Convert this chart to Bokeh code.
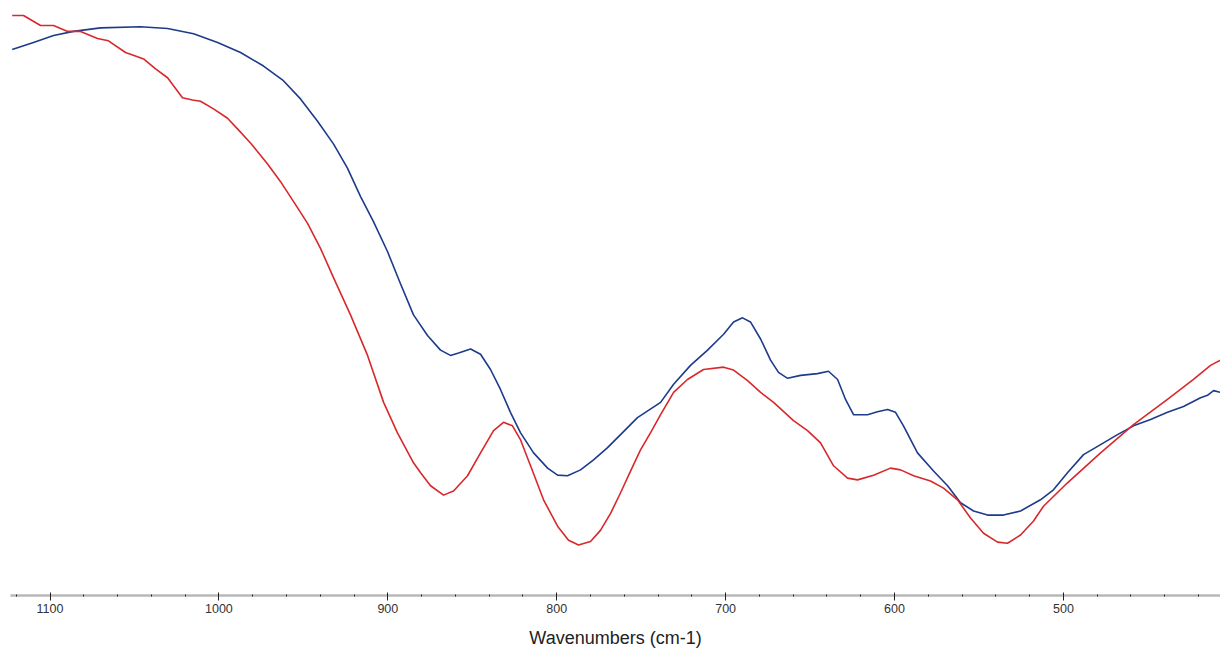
from bokeh.plotting import figure
from bokeh.models import Range1d, SingleIntervalTicker
from bokeh.embed import file_html
from bokeh.resources import INLINE

# Wavenumbers (cm-1) and transmittance-like values
red_wn = [1122.4, 1115.7, 1105.6, 1097.9, 1089.6, 1081.9, 1071.9, 1065.4, 1055.3, 1048.2,
          1044.6, 1037.5, 1030.4, 1021.6, 1015.6, 1010.9, 1003.2, 994.9, 989.0, 981.3,
          971.2, 963.5, 955.8, 947.5, 939.8, 932.1, 922.1, 912.0, 902.5, 894.3,
          884.8, 880.6, 874.7, 867.0, 861.1, 852.8, 845.1, 837.4, 831.5, 826.2,
          821.4, 815.5, 807.8, 799.5, 793.0, 787.1, 780.0, 774.1, 768.1, 762.2,
          756.3, 750.4, 744.5, 738.5, 730.8, 722.6, 713.1, 701.2, 695.3, 687.0,
          679.3, 671.6, 659.8, 651.5, 643.8, 636.1, 627.8, 621.9, 612.4, 602.4,
          596.4, 588.7, 578.7, 571.0, 562.7, 555.0, 547.3, 539.0, 533.1, 525.4,
          517.7, 511.8, 497.6, 478.0, 458.5, 438.4, 423.0, 412.9, 407.0]
red_t = [98.8, 98.8, 97.1, 97.1, 96.1, 96.1, 94.9, 94.5, 92.5, 91.8,
         91.4, 89.7, 88.2, 84.8, 84.4, 84.2, 82.9, 81.3, 79.5, 77.1,
         73.5, 70.5, 67.1, 63.4, 59.1, 54.1, 47.8, 40.9, 32.9, 27.7,
         22.6, 20.9, 18.7, 17.1, 17.8, 20.4, 24.3, 28.1, 29.5, 28.9,
         26.5, 22.1, 16.3, 11.8, 9.4, 8.6, 9.2, 11.1, 14.0, 17.5,
         21.2, 24.8, 27.7, 30.8, 34.6, 36.8, 38.5, 38.9, 38.4, 36.6,
         34.6, 32.9, 29.8, 28.1, 26.0, 22.1, 20.0, 19.7, 20.5, 21.7,
         21.4, 20.4, 19.5, 18.3, 16.3, 13.2, 10.6, 9.1, 8.9, 10.3,
         12.7, 15.2, 19.2, 24.3, 29.1, 33.4, 36.8, 39.2, 40.1]

blue_wn = [1122.4, 1109.8, 1097.9, 1086.1, 1070.1, 1046.4, 1030.4, 1015.0, 1000.8, 987.2,
           973.6, 961.8, 951.7, 941.6, 932.1, 923.9, 916.2, 908.5, 900.2, 892.5,
           884.8, 876.5, 868.8, 862.9, 858.1, 851.0, 845.1, 839.2, 833.3, 827.4,
           821.4, 813.7, 805.4, 799.5, 793.6, 785.9, 778.2, 769.9, 762.2, 752.2,
           738.5, 730.8, 720.8, 710.7, 701.2, 695.3, 690.0, 685.3, 679.3, 673.4,
           668.7, 663.3, 655.6, 645.6, 639.1, 633.7, 629.0, 624.3, 616.0, 610.1,
           604.1, 599.4, 594.7, 586.4, 576.9, 568.6, 560.9, 553.2, 544.9, 535.5,
           525.4, 513.6, 505.9, 497.6, 488.1, 478.0, 468.0, 458.5, 448.4, 438.4,
           428.9, 418.8, 414.7, 411.1, 407.0]
blue_t = [93.0, 94.2, 95.4, 96.1, 96.7, 96.9, 96.6, 95.7, 94.2, 92.5,
          90.2, 87.7, 84.6, 80.8, 76.9, 72.8, 68.0, 63.7, 58.6, 53.1,
          47.8, 44.3, 41.8, 40.9, 41.3, 42.0, 41.1, 38.5, 35.1, 31.2,
          27.7, 24.3, 21.7, 20.5, 20.4, 21.4, 23.1, 25.2, 27.4, 30.3,
          32.9, 36.0, 39.2, 41.8, 44.5, 46.6, 47.3, 46.6, 43.7, 40.1,
          38.0, 37.0, 37.5, 37.8, 38.2, 36.8, 33.4, 30.8, 30.8, 31.3,
          31.7, 31.2, 28.9, 24.3, 21.2, 18.7, 15.8, 14.4, 13.7, 13.7,
          14.4, 16.3, 18.0, 20.9, 24.0, 25.7, 27.4, 28.9, 30.0, 31.2,
          32.2, 33.7, 34.1, 34.9, 34.6]

p = figure(width=1220, height=650, output_backend="svg", toolbar_location=None,
           x_range=Range1d(1123.4, 407.0), y_range=Range1d(0, 100),
           min_border_left=10, min_border_right=0, min_border_top=8)
p.yaxis.visible = False
p.xgrid.visible = False
p.ygrid.visible = False
p.outline_line_color = None
p.background_fill_color = "white"
p.border_fill_color = "white"

p.line(blue_wn, blue_t, line_color="#1d3b8b", line_width=1.6, line_join="round")
p.line(red_wn, red_t, line_color="#d8282b", line_width=1.6, line_join="round")

ax = p.xaxis[0]
ax.ticker = SingleIntervalTicker(interval=100, num_minor_ticks=5)
ax.axis_line_color = "#b8b8b8"
ax.axis_line_width = 2.5
ax.major_tick_line_color = "#222222"
ax.major_tick_in = 3
ax.major_tick_out = 5
ax.minor_tick_line_color = "#222222"
ax.minor_tick_in = 1
ax.minor_tick_out = 1
ax.major_label_text_font = "Liberation Sans"
ax.major_label_text_font_size = "12.5px"
ax.major_label_text_color = "#333333"
ax.major_label_standoff = 3
ax.axis_label = "Wavenumbers (cm-1)"
ax.axis_label_text_font = "Liberation Sans"
ax.axis_label_text_font_size = "18px"
ax.axis_label_text_font_style = "normal"
ax.axis_label_text_color = "#222222"
ax.axis_label_standoff = 12

open("out.html", "w").write(file_html(p, INLINE))
